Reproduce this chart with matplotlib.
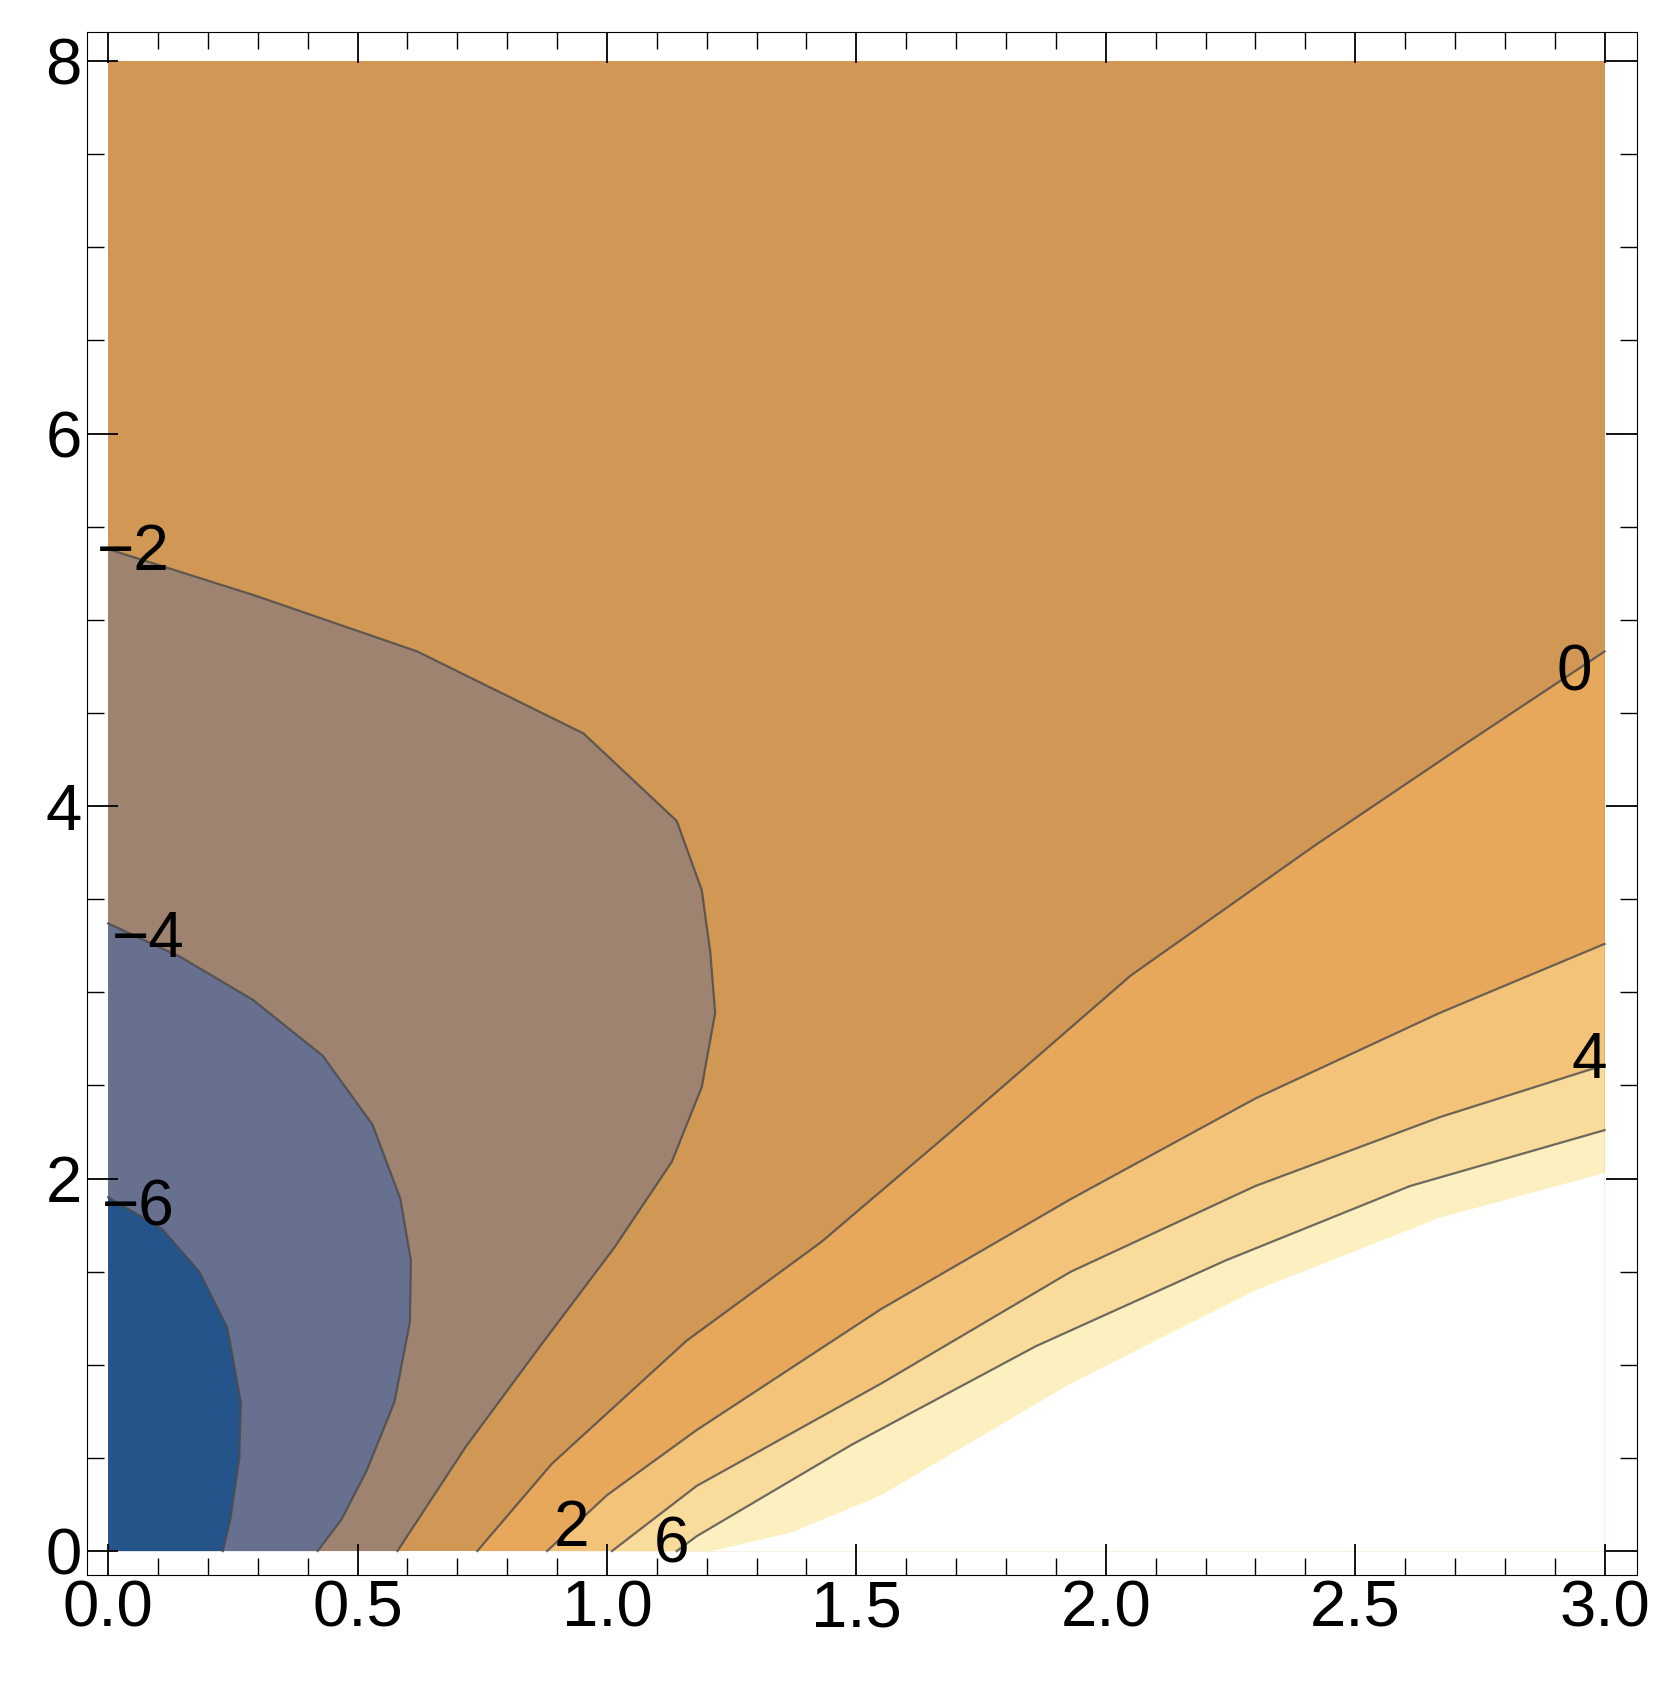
import matplotlib.pyplot as plt
import numpy as np

plt.rcParams['font.family'] = ['Liberation Sans', 'DejaVu Sans']

# contour curves (x, y)
c_m2 = [(0, 5.38), (0.295, 5.13), (0.62, 4.83), (0.953, 4.39), (1.14, 3.92), (1.19, 3.55),
        (1.207, 3.22), (1.217, 2.89), (1.19, 2.49), (1.13, 2.09), (1.015, 1.63),
        (0.866, 1.10), (0.717, 0.56), (0.58, 0)]
c_m4 = [(0, 3.37), (0.145, 3.19), (0.29, 2.96), (0.43, 2.66), (0.53, 2.29), (0.586, 1.89),
        (0.607, 1.56), (0.605, 1.23), (0.574, 0.80), (0.518, 0.43), (0.468, 0.17), (0.42, 0)]
c_m6 = [(0, 1.90), (0.108, 1.73), (0.183, 1.50), (0.239, 1.20), (0.266, 0.80), (0.263, 0.50),
        (0.245, 0.17), (0.23, 0)]
c_0 = [(0.74, 0), (0.89, 0.47), (1.16, 1.13), (1.43, 1.66), (1.68, 2.23), (2.05, 3.09),
       (2.42, 3.79), (2.73, 4.35), (3.0, 4.83)]
c_2 = [(0.88, 0), (1.0, 0.3), (1.18, 0.65), (1.55, 1.30), (1.93, 1.89), (2.30, 2.43),
       (2.67, 2.89), (3.0, 3.26)]
c_4 = [(1.01, 0), (1.18, 0.35), (1.55, 0.90), (1.93, 1.50), (2.30, 1.96), (2.67, 2.33), (3.0, 2.61)]
c_6 = [(1.14, 0), (1.18, 0.08), (1.49, 0.57), (1.86, 1.10), (2.24, 1.56), (2.61, 1.96), (3.0, 2.26)]
c_8 = [(1.21, 0), (1.37, 0.1), (1.55, 0.30), (1.93, 0.90), (2.30, 1.40), (2.67, 1.79), (3.0, 2.03)]

col_bg = "#d19755"
left_curves = [(c_m2, "#9e8470"), (c_m4, "#67708f"), (c_m6, "#24548a")]
right_curves = [(c_0, "#e8a85c"), (c_2, "#f3c379"), (c_4, "#f9dc9b"), (c_6, "#fdf0c0"), (c_8, "white")]
line_curves = [c_m2, c_m4, c_m6, c_0, c_2, c_4, c_6]
labels = [("-2", 0.05, 5.36), ("-4", 0.08, 3.28), ("-6", 0.06, 1.84), ("0", 2.94, 4.71),
          ("4", 2.97, 2.63), ("2", 0.93, 0.12), ("6", 1.13, 0.03)]

fig = plt.figure(figsize=(16.67, 16.86), dpi=100)
ax = fig.add_axes([0.052, 0.066, 0.93, 0.915])

ax.fill([0, 3, 3, 0], [0, 0, 8, 8], color=col_bg, lw=0)
for c, col in left_curves:
    xs, ys = zip(*c)
    ax.fill(list(xs) + [0], list(ys) + [0], color=col, lw=0)
for c, col in right_curves:
    xs, ys = zip(*c)
    ax.fill(list(xs) + [3, 3], list(ys) + [ys[-1], 0], color=col, lw=0)
for c in line_curves:
    xs, ys = zip(*c)
    ax.plot(xs, ys, color="#4a4a4a", lw=1.6, alpha=0.8, solid_joinstyle="round")
for t, x, y in labels:
    ax.text(x, y, t.replace("-", "\u2212"), fontsize=46, ha="center", va="center")

ax.set_xlim(-0.043, 3.065)
ax.set_ylim(-0.127, 8.156)
ax.set_xticks(np.arange(0, 3.01, 0.5))
ax.set_xticklabels(["0.0", "0.5", "1.0", "1.5", "2.0", "2.5", "3.0"])
ax.set_yticks([0, 2, 4, 6, 8])
ax.set_xticks(np.arange(0, 3.01, 0.1), minor=True)
ax.set_yticks(np.arange(0, 8.01, 0.5), minor=True)
ax.tick_params(which="both", direction="in", top=True, right=True, labelsize=47)
ax.tick_params(which="major", length=22, width=1.3)
ax.tick_params(which="minor", length=12, width=1)
fig.savefig("out.png")
